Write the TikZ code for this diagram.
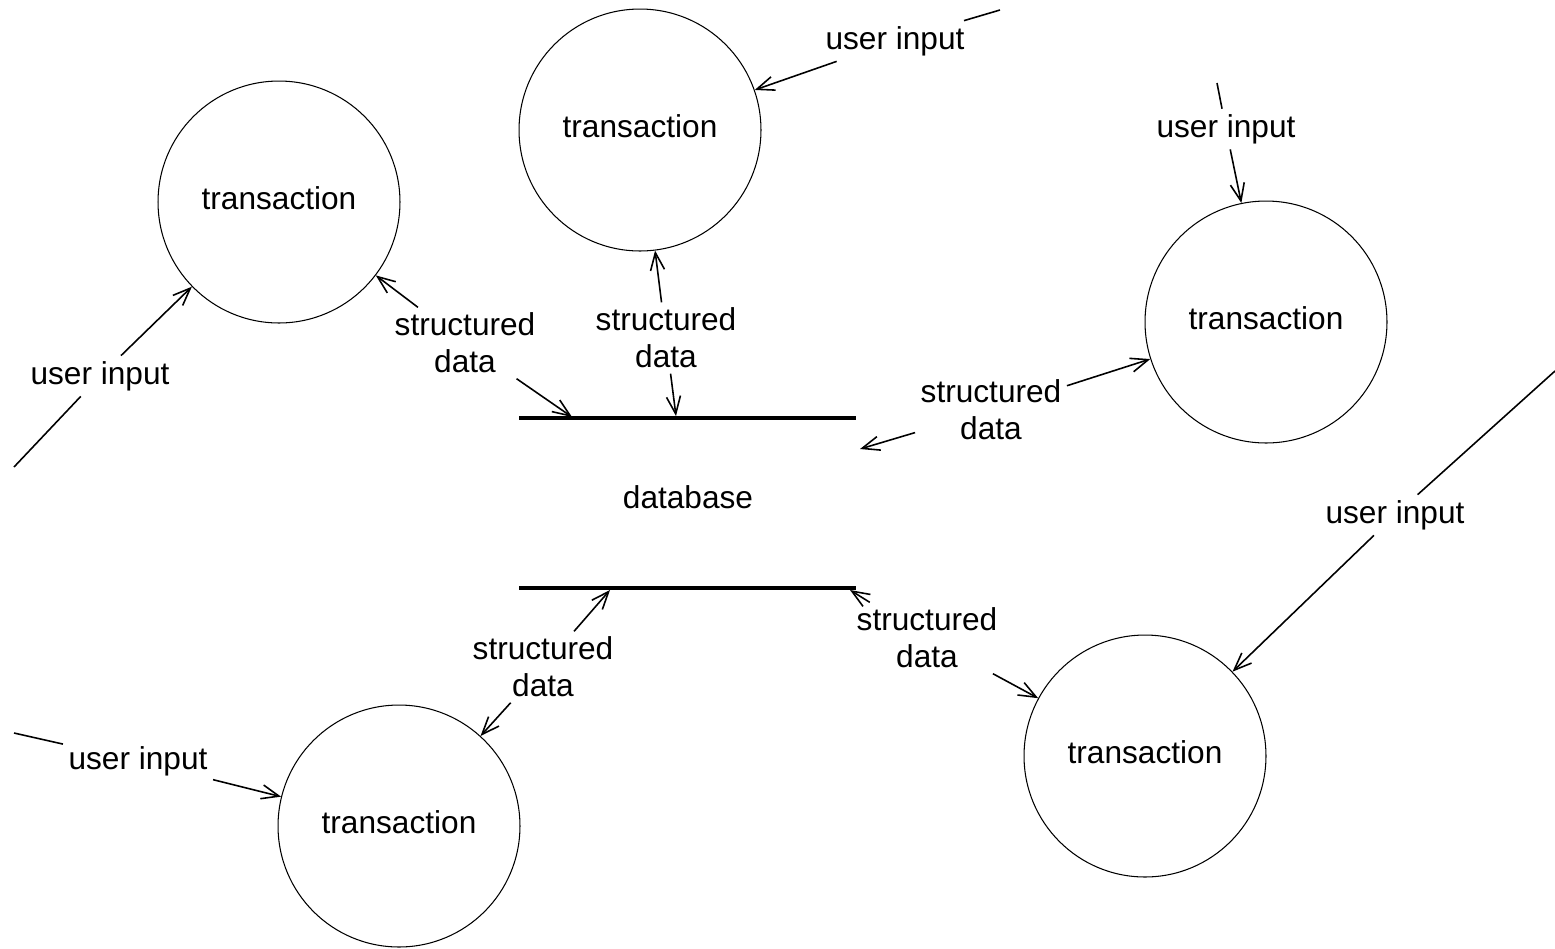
\documentclass[tikz,border=0pt]{standalone}
\usepackage{fontspec}
\setmainfont{Liberation Sans}
\usetikzlibrary{arrows.meta}
\begin{document}
\begin{tikzpicture}[x=0.02cm,y=-0.02cm,
  proc/.style={draw,circle,minimum size=4.84cm,inner sep=0pt,line width=0.6pt,text depth=5pt,font=\fontsize{18pt}{21pt}\selectfont},
  lbl/.style={inner sep=3pt,align=center,font=\fontsize{18pt}{21pt}\selectfont},
  flow/.style={line width=0.9pt,-{Straight Barb[length=10pt,width=8pt,line width=0.9pt]}},
  plain/.style={line width=0.9pt},
  store/.style={line width=2.4pt}]
\useasboundingbox (0,0) rectangle (1555,948);
% transactions
\node[proc] (t1) at (279,202) {transaction};
\node[proc] (t2) at (640,130) {transaction};
\node[proc] (t3) at (1266,322) {transaction};
\node[proc] (t4) at (399,826) {transaction};
\node[proc] (t5) at (1145,756) {transaction};
% database
\coordinate (dbtl) at (519,418);
\coordinate (dbtr) at (856,418);
\coordinate (dbbl) at (519,588);
\coordinate (dbbr) at (856,588);
\draw[store] (dbtl) -- (dbtr);
\draw[store] (dbbl) -- (dbbr);
\node[lbl] (db) at (688,497) {database};
% database access points
\coordinate (d1) at (572,417);
\coordinate (d2) at (676,416);
\coordinate (d3) at (860,449);
\coordinate (d4) at (610,590);
\coordinate (d5) at (850,590);
% user inputs
\coordinate (f1) at (14,467);
\coordinate (f2) at (1000,10);
\coordinate (f3) at (1217,83);
\coordinate (f4) at (14,733);
\coordinate (f5) at (1555,371);
\node[lbl] (u1) at (100,376) {user input};
\node[lbl] (u2) at (895,41) {user input};
\node[lbl] (u3) at (1226,129) {user input};
\node[lbl] (u4) at (138,761) {user input};
\node[lbl] (u5) at (1395,515) {user input};
\draw[plain] (f1) -- (u1); \draw[flow] (u1) -- (t1);
\draw[plain] (f2) -- (u2); \draw[flow] (u2) -- (t2);
\draw[plain] (f3) -- (u3); \draw[flow] (u3) -- (t3);
\draw[plain] (f4) -- (u4); \draw[flow] (u4) -- (t4);
\draw[plain] (f5) -- (u5); \draw[flow] (u5) -- (t5);
% structured data
\node[lbl] (s1) at (465,343) {structured\\data};
\node[lbl] (s2) at (666,338) {structured\\data};
\node[lbl] (s3) at (991,410) {structured\\data};
\node[lbl] (s4) at (543,667) {structured\\data};
\node[lbl] (s5) at (927,638) {structured\\data};
\draw[flow] (s1) -- (t1); \draw[flow] (s1) -- (d1);
\draw[flow] (s2) -- (t2); \draw[flow] (s2) -- (d2);
\draw[flow] (s3) -- (t3); \draw[flow] (s3) -- (d3);
\draw[flow] (s4) -- (t4); \draw[flow] (s4) -- (d4);
\draw[flow] (s5) -- (t5); \draw[flow] (s5) -- (d5);
\end{tikzpicture}
\end{document}
